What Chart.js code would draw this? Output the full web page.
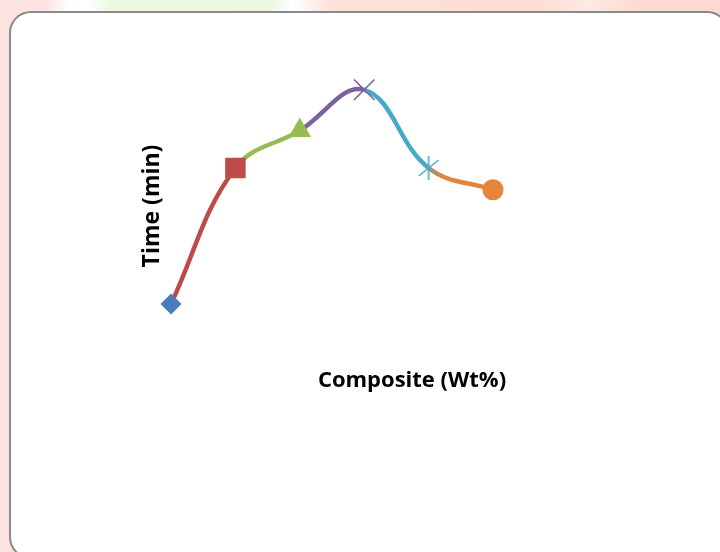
<!DOCTYPE html>
<html>
<head>
<meta charset="utf-8">
<script src="https://cdn.jsdelivr.net/npm/chart.js@4.4.0/dist/chart.umd.min.js"></script>
<style>
    html, body {
        margin: 0;
        padding: 0;
        width: 720px;
        height: 552px;
        overflow: hidden;
    }
    body {
        position: relative;
        background: linear-gradient(to right, #fde2e2 0px, #fde4e2 45px, #ffffff 70px, #ffffff 88px, #ebf9e2 110px, #eaf8e0 270px, #ffffff 292px, #fde2da 330px, #fdddd3 540px, #fdeae4 590px, #fdd9cf 640px, #fdd9cf 720px);
    }
    .frame {
        position: absolute;
        left: 9px;
        top: 11px;
        width: 716px;
        height: 544px;
        border: 2px solid #8a8a8a;
        border-radius: 22px;
        background: #ffffff;
    }
    #chart {
        position: absolute;
        left: 0;
        top: 0;
    }
</style>
</head>
<body>
<div class="frame"></div>
<canvas id="chart" width="720" height="552"></canvas>
<script>
// Chart data
const categories = ['0', '1', '2', '3', '4', '5'];
const timeValues = [20, 40, 45.5, 51.5, 40, 36.8];
const pointColors = ['#4A7EBB', '#BE4B48', '#98B954', '#7D60A0', '#46AAC5', '#E5843B'];
const xTitle = 'Composite (Wt%)';
const yTitle = 'Time (min)';

document.addEventListener('DOMContentLoaded', function () {
    // Excel style "star" marker: an x with a vertical bar
    const star = document.createElement('canvas');
    star.width = 26;
    star.height = 26;
    const sctx = star.getContext('2d');
    sctx.strokeStyle = pointColors[4];
    sctx.lineWidth = 1.6;
    sctx.beginPath();
    sctx.moveTo(3, 5); sctx.lineTo(23, 21);
    sctx.moveTo(23, 5); sctx.lineTo(3, 21);
    sctx.moveTo(13, 1); sctx.lineTo(13, 25);
    sctx.stroke();

    // Axis titles drawn by hand since the scales themselves are hidden
    const axisTitles = {
        id: 'axisTitles',
        afterDraw(chart) {
            const ctx = chart.ctx;
            ctx.save();
            ctx.fillStyle = '#000000';
            ctx.font = 'bold 22px "Open Sans"';
            ctx.textAlign = 'center';
            ctx.textBaseline = 'middle';
            ctx.fillText(xTitle, 412, 381);
            ctx.translate(152, 206);
            ctx.rotate(-Math.PI / 2);
            ctx.font = 'bold 23px "Open Sans"';
            ctx.fillText(yTitle, 0, 0);
            ctx.restore();
        }
    };

    const ctx = document.getElementById('chart');
    new Chart(ctx, {
        type: 'line',
        data: {
            labels: categories,
            datasets: [{
                label: yTitle,
                data: timeValues,
                borderWidth: 4.5,
                borderColor: pointColors[1],
                tension: 0.4,
                clip: false,
                segment: {
                    borderColor: c => pointColors[c.p1DataIndex]
                },
                pointStyle: ['rectRot', 'rect', 'triangle', 'crossRot', star, 'circle'],
                pointRadius: [10.5, 14.5, 13, 14.5, 12, 10.5],
                pointBackgroundColor: pointColors,
                pointBorderColor: pointColors,
                pointBorderWidth: [0, 0, 0, 1.6, 0, 0]
            }]
        },
        options: {
            responsive: false,
            animation: false,
            events: [],
            layout: {
                padding: { left: 171, right: 227, top: 32, bottom: 112 }
            },
            plugins: {
                legend: { display: false },
                tooltip: { enabled: false }
            },
            scales: {
                x: { display: false, offset: false },
                y: { display: false, min: 0, max: 60 }
            }
        },
        plugins: [axisTitles]
    });
});
</script>
</body>
</html>
